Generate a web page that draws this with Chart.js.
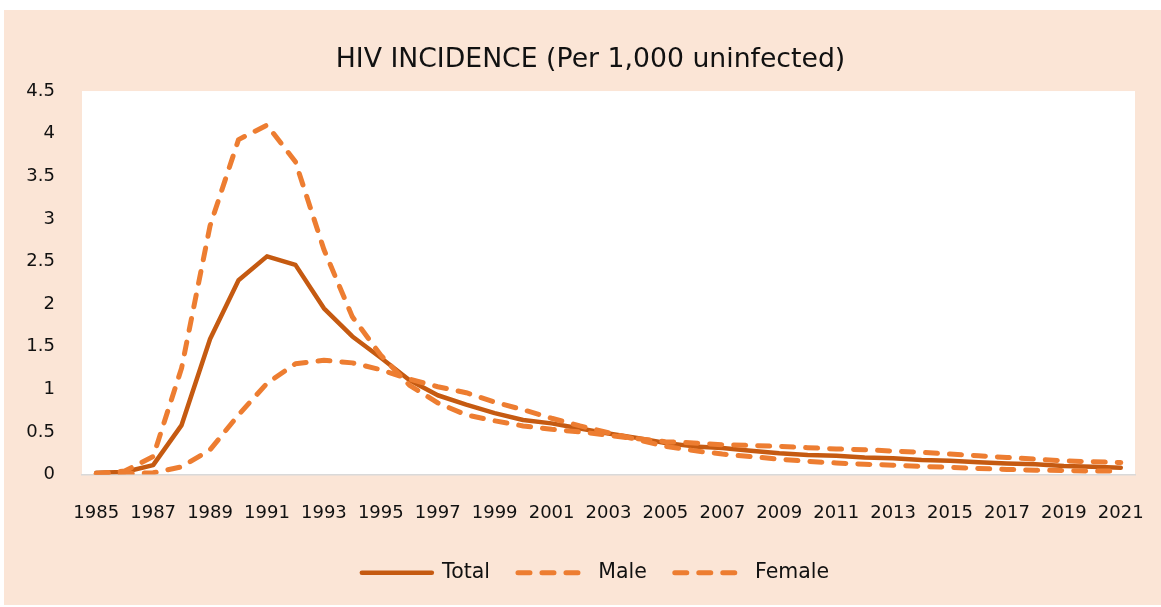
<!DOCTYPE html>
<html>
<head>
<meta charset="utf-8">
<script src="https://cdn.jsdelivr.net/npm/chart.js@4.4.1/dist/chart.umd.min.js"></script>
<style>
  html, body { margin: 0; padding: 0; background: #ffffff; }
  #wrap { width: 1161px; height: 607px; position: relative; }
</style>
</head>
<body>
<div id="wrap"><canvas id="c" width="1161" height="607"></canvas></div>
<script>
const years = ['1985','1986','1987','1988','1989','1990','1991','1992','1993','1994',
  '1995','1996','1997','1998','1999','2000','2001','2002','2003','2004',
  '2005','2006','2007','2008','2009','2010','2011','2012','2013','2014',
  '2015','2016','2017','2018','2019','2020','2021'];

const xTickLabels = ['1985','','1987','','1989','','1991','','1993','',
  '1995','','1997','','1999','','2001','','2003','',
  '2005','','2007','','2009','','2011','','2013','',
  '2015','','2017','','2019','','2021'];

const yTickLabels = ['0','0.5','1','1.5','2','2.5','3','3.5','4','4.5'];

const totalValues = [0.02,0.03,0.11,0.58,1.59,2.28,2.56,2.46,1.95,1.62,
  1.37,1.11,0.93,0.82,0.72,0.64,0.60,0.54,0.48,0.43,
  0.37,0.33,0.31,0.28,0.25,0.23,0.22,0.20,0.19,0.17,
  0.16,0.145,0.13,0.12,0.10,0.09,0.08];

const maleValues = [0.01,0.04,0.21,1.25,2.92,3.93,4.10,3.67,2.64,1.85,
  1.40,1.05,0.84,0.70,0.63,0.57,0.53,0.50,0.46,0.42,
  0.385,0.37,0.35,0.34,0.33,0.315,0.30,0.29,0.275,0.26,
  0.24,0.22,0.20,0.18,0.16,0.15,0.14];

const femaleValues = [0.01,0.01,0.02,0.09,0.29,0.70,1.07,1.30,1.34,1.31,
  1.23,1.12,1.03,0.96,0.85,0.76,0.66,0.57,0.49,0.41,
  0.33,0.28,0.24,0.21,0.18,0.155,0.135,0.12,0.11,0.095,
  0.085,0.07,0.06,0.05,0.047,0.04,0.04];

const FONT = "'DejaVu Sans', sans-serif";
const TEXT = '#111111';

const bgPlugin = {
  id: 'bg',
  afterLayout(chart) {
    if (chart.titleBlock) { chart.titleBlock.left += 21; chart.titleBlock.right += 21; }
    if (chart.legend) { chart.legend.left += 26; chart.legend.right += 26; }
  },
  beforeDraw(chart) {
    const ctx = chart.ctx;
    const a = chart.chartArea;
    ctx.save();
    ctx.fillStyle = '#ffffff';
    ctx.fillRect(0, 0, chart.width, chart.height);
    ctx.fillStyle = '#FBE5D6';
    ctx.fillRect(4, 10, chart.width - 4, chart.height - 12);
    ctx.fillStyle = '#ffffff';
    ctx.fillRect(a.left, a.top, a.right - a.left, a.bottom - a.top);
    ctx.restore();
  }
};

new Chart(document.getElementById('c'), {
  type: 'line',
  data: {
    labels: years,
    datasets: [
      { label: 'Total', data: totalValues, borderColor: '#C55A11', backgroundColor: '#C55A11',
        borderWidth: 4.5, pointRadius: 0, tension: 0, order: 2, borderCapStyle: 'round', borderJoinStyle: 'round' },
      { label: 'Male', data: maleValues, borderColor: '#ED7D31', backgroundColor: '#ED7D31',
        borderWidth: 5, borderDash: [12, 12], borderCapStyle: 'round', borderJoinStyle: 'round',
        pointRadius: 0, tension: 0, order: 1 },
      { label: 'Female', data: femaleValues, borderColor: '#ED7D31', backgroundColor: '#ED7D31',
        borderWidth: 5, borderDash: [12, 12], borderCapStyle: 'round', borderJoinStyle: 'round',
        pointRadius: 0, tension: 0, order: 0 }
    ]
  },
  options: {
    responsive: false,
    animation: false,
    devicePixelRatio: 1,
    layout: { padding: { top: 10, left: 4, right: 26, bottom: 14 } },
    plugins: {
      tooltip: { enabled: false },
      title: {
        display: true,
        text: 'HIV INCIDENCE (Per 1,000 uninfected)',
        color: TEXT,
        font: { family: FONT, size: 26.7, weight: 'normal' },
        padding: { top: 34, bottom: 15 }
      },
      legend: {
        display: true,
        position: 'bottom',
        labels: {
          color: TEXT,
          font: { family: FONT, size: 20.5 },
          usePointStyle: true,
          pointStyle: 'line',
          pointStyleWidth: 70,
          padding: 28,
          sort: (a, b) => a.datasetIndex - b.datasetIndex,
          generateLabels: (chart) => {
            const items = Chart.defaults.plugins.legend.labels.generateLabels(chart);
            items.forEach((it) => {
              const ds = chart.data.datasets[it.datasetIndex];
              it.lineDash = ds.borderDash || [];
              it.lineCap = 'round';
              it.lineWidth = ds.borderWidth;
              it.strokeStyle = ds.borderColor;
              it.pointStyle = 'line';
            });
            return items;
          }
        }
      }
    },
    scales: {
      x: {
        offset: true,
        grid: { display: false, drawTicks: false },
        border: { display: true, color: '#D9D9D9', width: 1.5 },
        ticks: {
          autoSkip: false, maxRotation: 0, minRotation: 0,
          color: TEXT, font: { family: FONT, size: 18 }, padding: 28,
          callback: (v, i) => xTickLabels[i]
        },
        afterFit: (s) => { s.height = 60; s.paddingRight = 0; s.paddingLeft = 0; }
      },
      y: {
        min: 0, max: 4.5,
        grid: { display: false, drawTicks: false },
        border: { display: false },
        ticks: {
          stepSize: 0.5, color: TEXT, font: { family: FONT, size: 18 }, padding: 27,
          callback: (v, i) => yTickLabels[i]
        },
        afterFit: (s) => { s.width = 78; }
      }
    }
  },
  plugins: [bgPlugin]
});
</script>
</body>
</html>
